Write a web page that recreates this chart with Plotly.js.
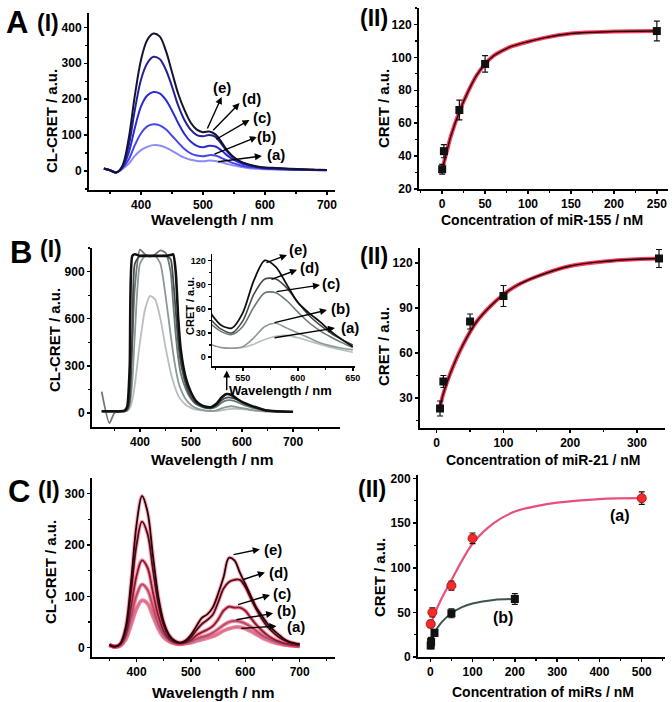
<!DOCTYPE html>
<html>
<head>
<meta charset="utf-8">
<script src="https://cdn.plot.ly/plotly-3.0.1.min.js"></script>
<style>
  html, body { margin: 0; padding: 0; background: #fff; }
  #chart { width: 672px; height: 702px; }
</style>
</head>
<body>
<div id="chart"></div>
<script>
// ---- data ----
const curveLabels = ['(a)', '(b)', '(c)', '(d)', '(e)'];

// A(I): CL-CRET spectra, miR-155
const waveA = [340, 350, 360, 370, 380, 390, 400, 410, 420, 430, 440, 450, 460, 470, 480, 490, 500, 510, 520, 530, 540, 550, 560, 570, 580, 590, 600, 620, 640, 660, 680, 700];
const specA_a = [6, 2, -4, 6, 20, 42, 58, 67, 72, 71, 65, 56, 46, 37, 31, 28, 27, 29, 28, 24, 19, 15, 12, 9, 7, 6, 5, 4, 3, 3, 2, 2];
const specA_b = [6, 2, -4, 8, 32, 72, 105, 124, 130, 127, 116, 98, 79, 61, 49, 43, 41, 44, 43, 36, 28, 21, 16, 12, 10, 8, 6, 5, 4, 3, 3, 2];
const specA_c = [7, 2, -4, 10, 50, 120, 180, 210, 220, 216, 198, 168, 133, 103, 82, 70, 66, 70, 68, 57, 42, 31, 23, 17, 13, 10, 8, 6, 5, 4, 3, 3];
const specA_d = [7, 2, -4, 12, 70, 170, 255, 300, 318, 312, 282, 235, 182, 142, 115, 100, 97, 100, 95, 75, 52, 36, 26, 19, 14, 11, 9, 7, 5, 4, 3, 3];
const specA_e = [7, 2, -4, 15, 90, 210, 310, 365, 383, 375, 335, 275, 215, 170, 135, 115, 108, 110, 102, 80, 55, 38, 27, 20, 15, 12, 10, 8, 6, 5, 4, 3];

// A(II): CRET vs miR-155
const concA = [0, 2, 20, 50, 250];
const cretA = [32, 43, 68, 96, 116];
const errA = [3, 4, 6, 5, 6];
const fitConcA = [0, 5, 10, 20, 30, 40, 50, 60, 70, 80, 100, 120, 150, 200, 250];
const fitCretA = [32, 42, 52, 67, 79, 89, 96, 101, 104, 106.5, 109.5, 112, 114.5, 115.7, 116];

// B(I): CL-CRET spectra, miR-21
const waveB = [325, 340, 350, 360, 370, 375, 380, 385, 390, 400, 410, 420, 430, 440, 450, 460, 465, 470, 475, 480, 490, 500, 510, 520, 530, 540, 550, 560, 570, 580, 590, 600, 610, 620, 630, 640, 650, 660, 680, 700];
const specB_a = [12, 10, 8, 8, 10, 14, 30, 80, 180, 450, 660, 745, 720, 600, 420, 260, 200, 150, 110, 85, 50, 32, 20, 16, 12, 11, 12, 16, 22, 26, 26, 24, 20, 16, 12, 9, 6, 6, 5, 5];
const specB_b = [10, 8, 8, 8, 10, 15, 50, 200, 500, 950, 1000, 1000, 1000, 950, 750, 500, 380, 280, 200, 150, 85, 50, 30, 20, 14, 12, 16, 28, 38, 42, 36, 30, 25, 18, 14, 12, 9, 8, 7, 5];
const specB_c = [135, -65, 0, 10, 15, 30, 150, 450, 800, 1040, 1010, 995, 1010, 1035, 1020, 900, 700, 500, 350, 250, 150, 90, 55, 40, 30, 28, 40, 65, 80, 80, 70, 55, 42, 32, 25, 18, 12, 9, 7, 5];
const specB_d = [10, 8, 8, 8, 10, 20, 80, 500, 950, 1000, 1000, 1000, 1000, 1000, 1000, 980, 850, 650, 450, 320, 180, 100, 60, 45, 32, 32, 48, 80, 97, 96, 85, 68, 52, 40, 30, 22, 15, 11, 8, 6];
const specB_e = [10, 10, 10, 10, 15, 40, 300, 1000, 1010, 1000, 1000, 1000, 1000, 1000, 1000, 1005, 1010, 900, 600, 400, 220, 130, 75, 50, 38, 38, 58, 98, 120, 112, 90, 70, 56, 43, 32, 22, 15, 12, 9, 7];

// B(I) inset: 520-650 nm zoom
const waveIn = [520, 530, 540, 550, 560, 570, 580, 590, 600, 610, 620, 630, 640, 650];
const specIn_a = [16, 12, 11, 12, 16, 22, 26, 27, 24, 20, 16, 12, 9, 6];
const specIn_b = [16, 12, 11, 13, 24, 38, 42, 36, 30, 24, 18, 14, 11, 9];
const specIn_c = [42, 32, 28, 38, 62, 80, 80, 70, 56, 43, 33, 25, 18, 12];
const specIn_d = [48, 35, 30, 45, 78, 97, 97, 86, 68, 52, 40, 30, 22, 15];
const specIn_e = [56, 40, 36, 55, 95, 120, 112, 90, 68, 55, 44, 32, 22, 13];

// B(II): CRET vs miR-21
const concB = [5, 10, 50, 100, 333];
const cretB = [23, 41, 81, 98, 123];
const errB = [5, 4, 5, 7, 6];
const fitConcB = [5, 10, 20, 40, 60, 80, 100, 120, 150, 200, 250, 300, 333];
const fitCretB = [24, 33, 46, 66, 81, 91, 99, 105, 111, 118, 121, 122.5, 123];

// C(I): CL-CRET spectra, miRs
const waveC = [350, 360, 370, 380, 390, 400, 410, 420, 430, 440, 450, 460, 470, 480, 490, 500, 510, 520, 530, 540, 550, 560, 570, 580, 590, 600, 610, 620, 630, 640, 650, 660, 670, 680, 690, 700];
const specC_a = [5, 2, 4, 16, 45, 76, 92, 86, 62, 37, 20, 12, 8, 7, 8, 10, 13, 16, 19, 22, 27, 33, 37, 40, 40, 37, 32, 26, 20, 15, 11, 8, 6, 5, 4, 3];
const specC_b = [5, 2, 5, 20, 60, 102, 123, 113, 80, 46, 25, 14, 9, 8, 9, 12, 17, 21, 24, 29, 36, 44, 50, 52, 51, 47, 41, 33, 25, 19, 14, 10, 7, 5, 4, 3];
const specC_c = [5, 2, 6, 25, 80, 140, 170, 156, 108, 62, 32, 17, 10, 8, 10, 15, 24, 30, 35, 42, 55, 72, 80, 78, 78, 72, 58, 45, 34, 25, 18, 13, 9, 7, 5, 4];
const specC_d = [6, 2, 7, 35, 110, 200, 245, 222, 152, 85, 43, 22, 12, 9, 12, 20, 34, 46, 54, 64, 88, 115, 128, 132, 132, 118, 96, 75, 57, 42, 31, 22, 15, 11, 8, 6];
const specC_e = [6, 2, 8, 40, 130, 240, 295, 265, 180, 100, 50, 25, 14, 10, 14, 25, 42, 58, 65, 78, 105, 137, 175, 170, 146, 124, 101, 79, 63, 48, 36, 27, 18, 12, 9, 7];

// C(II): CRET vs miRs, (a) and (b)
const concCa = [1, 5, 50, 100, 500];
const cretCa = [37, 50, 80, 133, 178];
const errCa = [4, 5, 5, 6, 7];
const fitConcCa = [0, 10, 25, 50, 75, 100, 150, 200, 260, 300, 400, 500];
const fitCretCa = [35, 48, 64, 86, 108, 127, 150, 163, 170, 173, 177, 178];
const concCb = [1, 2, 10, 50, 200];
const cretCb = [13, 17, 27, 49, 65];
const errCb = [4, 5, 4, 5, 6];
const fitConcCb = [0, 10, 25, 50, 75, 100, 150, 200];
const fitCretCb = [15, 27, 38, 49, 56, 60, 64, 65];

// ---- layout helpers ----
const W = 672, H = 702;
const FONT = 'Liberation Sans, Arial, sans-serif';
const domX = (a, b) => [a / W, b / W];
const domY = (top, bottom) => [1 - bottom / H, 1 - top / H];

function axis(domain, range, dtick, minorDtick, anchor, size, lw) {
    return {
        domain: domain, range: range, dtick: dtick, tick0: 0, anchor: anchor,
        ticks: 'outside', ticklen: 3, tickwidth: 1.5, tickcolor: '#000',
        showline: true, linewidth: lw || 2, linecolor: '#000',
        showgrid: false, zeroline: false, fixedrange: true,
        tickfont: { family: FONT, size: size || 12, color: '#000', weight: 'bold' },
        minor: { dtick: minorDtick, tick0: 0, ticks: 'outside', ticklen: 2, tickwidth: 1.2, tickcolor: '#000' }
    };
}

const traces = [];

function spectra(xs, sets, colors, xa, ya, width, smooth) {
    sets.forEach((ys, i) => {
        traces.push({
            x: xs, y: ys, xaxis: xa, yaxis: ya, type: 'scatter', mode: 'lines',
            name: curveLabels[i],
            line: { color: colors[i], width: (width[i] || width), shape: 'spline', smoothing: smooth },
            hoverinfo: 'skip'
        });
    });
}

// A(I)
spectra(waveA, [specA_a, specA_b, specA_c, specA_d, specA_e],
    ['#8c8cf5', '#4646ec', '#2a2ad6', '#222296', '#141432'], 'x', 'y', 2, 1);

// A(II)
traces.push({ x: fitConcA, y: fitCretA, xaxis: 'x2', yaxis: 'y2', mode: 'lines',
    line: { color: '#ff3a5a', width: 4, shape: 'spline' } });
traces.push({ x: fitConcA, y: fitCretA, xaxis: 'x2', yaxis: 'y2', mode: 'lines',
    line: { color: '#1a0a0a', width: 1.4, shape: 'spline' } });
traces.push({ x: concA, y: cretA, xaxis: 'x2', yaxis: 'y2', mode: 'markers',
    marker: { symbol: 'square', size: 8, color: '#111' },
    error_y: { type: 'data', array: errA, color: '#111', thickness: 1.2, width: 3 } });

// B(I)
const grays = ['#b6bebe', '#8d9898', '#6a7878', '#454a4a', '#101010'];
spectra(waveB, [specB_a, specB_b, specB_c, specB_d, specB_e], grays, 'x3', 'y3', [1.8, 1.8, 1.8, 1.8, 2.6], 0.6);

// B(I) inset
spectra(waveIn, [specIn_a, specIn_b, specIn_c, specIn_d, specIn_e], grays, 'x4', 'y4', [1.6, 1.6, 1.6, 1.6, 1.8], 0.8);

// B(II)
traces.push({ x: fitConcB, y: fitCretB, xaxis: 'x5', yaxis: 'y5', mode: 'lines',
    line: { color: '#ff3a5a', width: 4, shape: 'spline' } });
traces.push({ x: fitConcB, y: fitCretB, xaxis: 'x5', yaxis: 'y5', mode: 'lines',
    line: { color: '#1a0a0a', width: 1.4, shape: 'spline' } });
traces.push({ x: concB, y: cretB, xaxis: 'x5', yaxis: 'y5', mode: 'markers',
    marker: { symbol: 'square', size: 8, color: '#111' },
    error_y: { type: 'data', array: errB, color: '#111', thickness: 1.2, width: 3 } });

// C(I): red glow underneath, dark lines on top
const setsC = [specC_a, specC_b, specC_c, specC_d, specC_e];
spectra(waveC, setsC, ['rgba(255,40,70,0.6)', 'rgba(255,40,70,0.55)', 'rgba(255,40,70,0.5)', 'rgba(255,40,70,0.4)', 'rgba(255,40,70,0.35)'], 'x6', 'y6', 4, 1);
spectra(waveC, setsC, ['#c8789a', '#a84e70', '#801c34', '#4c0c1c', '#22060c'], 'x6', 'y6', 1.8, 1);

// C(II)
traces.push({ x: fitConcCa, y: fitCretCa, xaxis: 'x7', yaxis: 'y7', mode: 'lines',
    line: { color: '#e8507a', width: 2.2, shape: 'spline' } });
traces.push({ x: fitConcCb, y: fitCretCb, xaxis: 'x7', yaxis: 'y7', mode: 'lines',
    line: { color: '#3c5454', width: 2, shape: 'spline' } });
traces.push({ x: concCa, y: cretCa, xaxis: 'x7', yaxis: 'y7', mode: 'markers',
    marker: { symbol: 'circle', size: 9, color: '#f52a2a', line: { color: '#b01818', width: 1 } },
    error_y: { type: 'data', array: errCa, color: '#111', thickness: 1.2, width: 3 } });
traces.push({ x: concCb, y: cretCb, xaxis: 'x7', yaxis: 'y7', mode: 'markers',
    marker: { symbol: 'square', size: 8, color: '#111' },
    error_y: { type: 'data', array: errCb, color: '#111', thickness: 1.2, width: 3 } });

// ---- annotations ----
const annotations = [];

function paperText(text, x, y, size, angle) {
    annotations.push({ xref: 'paper', yref: 'paper', x: x / W, y: 1 - y / H, text: text,
        showarrow: false, xanchor: 'center', yanchor: 'middle', textangle: angle || 0,
        font: { family: FONT, size: size, color: '#000', weight: 'bold' } });
}

function arrow(xa, ya, tail, head) {
    annotations.push({ xref: xa, yref: ya, axref: xa, ayref: ya, x: head[0], y: head[1],
        ax: tail[0], ay: tail[1], text: '', showarrow: true, arrowhead: 2, arrowsize: 1,
        arrowwidth: 1.4, arrowcolor: '#000' });
}

function label(xa, ya, text, pos, size) {
    annotations.push({ xref: xa, yref: ya, x: pos[0], y: pos[1], text: text, showarrow: false,
        xanchor: 'center', yanchor: 'middle', font: { family: FONT, size: size || 15, color: '#000', weight: 'bold' } });
}

// panel letters
paperText('A', 17, 23, 31); paperText('(I)', 48, 23, 23); paperText('(II)', 374, 18, 23);
paperText('B', 21, 252, 31); paperText('(I)', 51, 249, 23); paperText('(II)', 374, 256, 23);
paperText('C', 19, 492, 31); paperText('(I)', 49, 490, 23); paperText('(II)', 372, 489, 23);

// axis titles
paperText('CL-CRET / a.u.', 52, 121, 15, -90);
paperText('Wavelength / nm', 212, 220, 15.5);
paperText('CRET / a.u.', 383, 109, 15, -90);
paperText('Concentration of miR-155 / nM', 542, 220, 14);
paperText('CL-CRET / a.u.', 54, 340, 15, -90);
paperText('Wavelength / nm', 212, 459, 15.5);
paperText('CRET / a.u.', 190, 306, 11, -90);
paperText('Wavelength / nm', 280, 390, 13);
paperText('CRET / a.u.', 383, 347, 15, -90);
paperText('Concentration of miR-21 / nM', 543, 460, 14);
paperText('CL-CRET / a.u.', 50, 572, 15, -90);
paperText('Wavelength / nm', 213, 692, 15.5);
paperText('CRET / a.u.', 379, 578, 15, -90);
paperText('Concentration of miRs / nM', 543, 692, 14);

// A(I) arrows
const arrA = [[[522, 25], [595, 42], [617, 45]], [[516, 45], [587, 95], [603, 97]],
    [[519, 86], [575, 142], [595, 150]], [[514, 109], [559, 189], [579, 203]], [[506, 114], [530, 206], [530, 233]]];
arrA.forEach((a, i) => { arrow('x', 'y', a[0], a[1]); label('x', 'y', curveLabels[i], a[2]); });

// B inset arrows (label (e) sits above the inset range, so it goes in paper space)
const arrB = [[[577.5, 23.7], [633.8, 36.1], [647, 37.3]], [[577.5, 42.3], [626.5, 58.4], [638.4, 60.9]],
    [[579.3, 81], [620.2, 89.4], [630, 91.9]], [[574.7, 95.9], [599.3, 108.3], [611, 110.8]], [[570.2, 116.7], [590.2, 126.7], null]];
arrB.forEach((a, i) => {
    arrow('x4', 'y4', a[0], a[1]);
    if (a[2]) label('x4', 'y4', curveLabels[i], a[2], 15);
});
paperText('(e)', 298, 249, 15);
arrow('x3', 'y3', [570, 135], [570, 270]);

// C(I) arrows
const arrC = [[[589.7, 37.4], [657.3, 42], [694, 40.7]], [[580.9, 53.9], [651.2, 66.9], [675.9, 73.3]],
    [[584, 83.1], [645.3, 102.5], [666.6, 105.8]], [[593.8, 131.7], [636, 146.5], [660.3, 146.5]], [[575.7, 180.4], [626.7, 191.4], [651.3, 191.4]]];
arrC.forEach((a, i) => { arrow('x6', 'y6', a[0], a[1]); label('x6', 'y6', curveLabels[i], a[2]); });

// C(II) labels
label('x7', 'y7', '(a)', [448, 159], 16);
label('x7', 'y7', '(b)', [172, 44], 16);

const layout = {
    width: W, height: H,
    margin: { l: 0, r: 0, t: 0, b: 0 },
    paper_bgcolor: '#fff', plot_bgcolor: 'rgba(0,0,0,0)',
    showlegend: false,
    font: { family: FONT, color: '#000' },
    xaxis: axis(domX(89, 335), [316, 713], 100, 50, 'y'),
    yaxis: axis(domY(13, 190), [-53, 440], 100, 50, 'x'),
    xaxis2: axis(domX(419, 668), [-27, 263], 50, 25, 'y2'),
    yaxis2: axis(domY(8, 189), [20, 130], 20, 10, 'x2'),
    xaxis3: axis(domX(92, 340), [306, 792], 100, 50, 'y3'),
    yaxis3: axis(domY(248, 427), [-90, 1050], 300, 150, 'x3'),
    xaxis4: axis(domX(212, 355), [522, 652], 50, 25, 'y4', 9, 1.5),
    yaxis4: axis(domY(254, 366), [-11, 128], 30, 15, 'x4', 9, 1.5),
    xaxis5: axis(domX(420, 665), [-25, 342], 100, 50, 'y5'),
    yaxis5: axis(domY(248, 428), [10, 130], 30, 15, 'x5'),
    xaxis6: axis(domX(92, 335), [318, 765], 100, 50, 'y6'),
    yaxis6: axis(domY(478, 657), [-18, 330], 100, 50, 'x6'),
    xaxis7: axis(domX(418, 665), [-29, 555], 100, 50, 'y7'),
    yaxis7: axis(domY(475, 657), [0, 204], 50, 25, 'x7'),
    annotations: annotations
};

Plotly.newPlot('chart', traces, layout, { displayModeBar: false, staticPlot: true });
</script>
</body>
</html>
